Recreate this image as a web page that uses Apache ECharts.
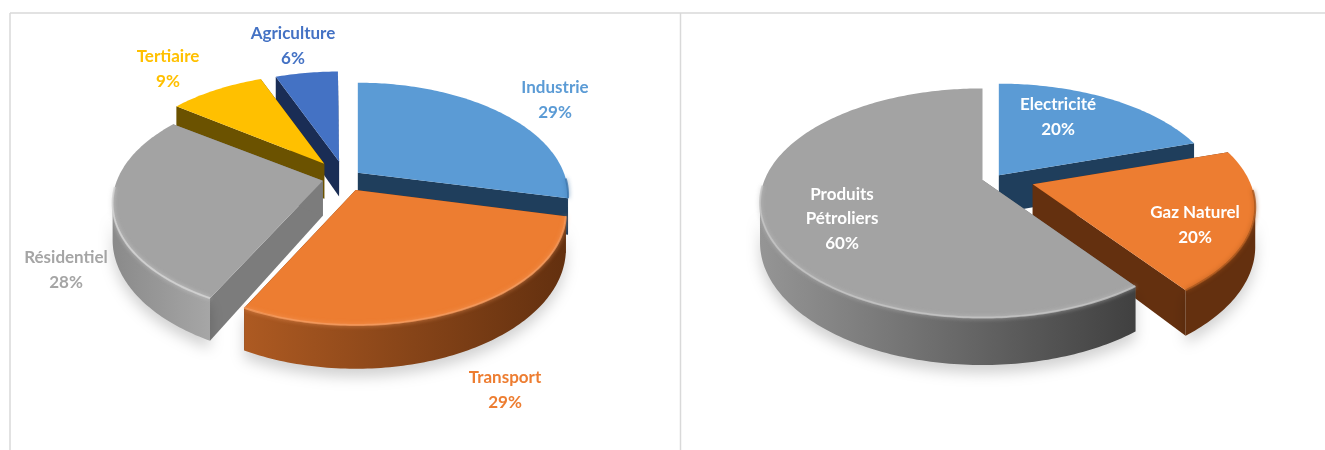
<!DOCTYPE html>
<html>
<head>
<meta charset="utf-8">
<style>
  html, body { margin: 0; background: #fff; }
  #chart { width: 1325px; height: 450px; }
</style>
<script src="https://cdn.jsdelivr.net/npm/echarts@6/dist/echarts.min.js"></script>
</head>
<body>
<div id="chart"></div>
<script>
// sector shares, % (clockwise from 12 o'clock)
const sectorNames = ['Industrie', 'Transport', 'Résidentiel', 'Tertiaire', 'Agriculture'];
const sectorValues = [29, 29, 28, 9, 6];
const energyNames = ['Electricité', 'Gaz Naturel', 'Produits\nPétroliers'];
const energyValues = [20, 20, 60];

const blue = { top: '#5b9bd5', wall: '#1f3e5c', side: ['#2a5378', '#1f3e5c'], rim: '#3d76ab' };
const orange = { top: '#ed7d31', wall: '#64300f', side: ['#ad5a22', '#63300f'], rim: '#f59a5c' };
const grey = { top: '#a3a3a3', wall: '#7c7c7c', side: ['#8a8a8a', '#a6a6a6'], rim: '#d4d4d4' };
const yellow = { top: '#ffc000', wall: '#6b5200', side: ['#7a5e00', '#6b5200'], rim: null };
const navy = { top: '#4472c4', wall: '#1a2d55', side: ['#1a2d55', '#1a2d55'], rim: null };
const greyDark = { top: '#a3a3a3', wall: '#6e6e6e', side: ['#959595', '#404040'], rim: '#c4c4c4' };

const sectorPie = {
  names: sectorNames, values: sectorValues,
  cx: 345, cy: 178, rx: 206, ry: 108, persp: 0.2, depth: 35,
  explode: [0.08, 0.12, 0.11, 0.17, 0.16],
  paint: [blue, orange, grey, yellow, navy],
  labelColor: ['#5b9bd5', '#ed7d31', '#a5a5a5', '#ffc000', '#4472c4'],
  labelAt: [[555, 100], [505, 390], [66, 270], [168, 69], [293, 46]]
};
const energyPie = {
  names: energyNames, values: energyValues,
  cx: 995, cy: 178, rx: 218, ry: 110, persp: 0.2, depth: 38,
  explode: [0.03, 0.18, 0.06],
  paint: [blue, { ...orange, side: ['#64300f', '#64300f'], rim: '#a8551c' }, greyDark],
  labelColor: ['#fff', '#fff', '#fff'],
  labelAt: [[1058, 117], [1195, 225], [842, 219]]
};

const rad = d => d * Math.PI / 180;

// unit disc -> screen, with a little perspective (back of the disc is smaller)
function project(pie, u, v) {
  const w = 1 + pie.persp * v;
  return [pie.rx * u / w, -pie.ry * v / w, w];
}

function buildSlices(pie) {
  const total = pie.values.reduce((a, b) => a + b, 0);
  let angle = 0;
  const slices = pie.values.map((value, i) => {
    const start = angle;
    const end = angle + value / total * 360;
    angle = end;
    const mid = rad((start + end) / 2);
    const d = pie.explode[i];
    const off = project(pie, d * Math.sin(mid), d * Math.cos(mid));
    const ox = pie.cx + off[0];
    const oy = pie.cy + off[1];
    const top = [];
    const sideTop = [];
    const sideBottom = [];
    const front = [];
    let bottomFirst = null;
    let bottomLast = null;
    let minCos = 1;
    for (let a = start; a <= end + 0.001; a += 1) {
      const cos = Math.cos(rad(a));
      const p = project(pie, Math.sin(rad(a)), cos);
      const x = ox + p[0];
      const y = oy + p[1];
      const low = [x, y + pie.depth / p[2]];
      top.push([x, y]);
      if (!bottomFirst) bottomFirst = low;
      bottomLast = low;
      // the outer wall only shows on the near side of the silhouette
      if (cos < -pie.persp) {
        sideTop.push([x, y]);
        sideBottom.push(low);
      }
      // only the near part of the edge catches the light
      if (cos < -0.05) front.push([x, y]);
      minCos = Math.min(minCos, cos);
    }
    if (start <= 180 && end >= 180) minCos = -1;
    return { i, value, ox, oy, top, sideTop, sideBottom, bottomFirst, bottomLast, front, minCos };
  });
  // back slices first
  return slices.sort((a, b) => b.minCos - a.minCos);
}

function pieSeries(pie) {
  const slices = buildSlices(pie);
  return {
    type: 'custom',
    coordinateSystem: 'none',
    silent: true,
    animation: false,
    data: slices.map(s => [s.value]),
    renderItem(params) {
      const s = slices[params.dataIndex];
      const c = pie.paint[s.i];
      const apexTop = [s.ox, s.oy];
      const apexBottom = [s.ox, s.oy + pie.depth];
      const wall = (a, b) => ({
        type: 'polygon',
        shape: { points: [apexTop, a, b, apexBottom] },
        style: { fill: c.wall }
      });
      const children = [
        wall(s.top[0], s.bottomFirst),
        wall(s.top[s.top.length - 1], s.bottomLast)
      ];
      if (s.sideTop.length > 1) {
        children.push({
          type: 'polygon',
          shape: { points: s.sideTop.concat(s.sideBottom.slice().reverse()) },
          style: {
            fill: {
              type: 'linear', x: 0, y: 0, x2: 1, y2: 0,
              colorStops: [{ offset: 0, color: c.side[0] }, { offset: 1, color: c.side[1] }]
            },
            shadowBlur: 14, shadowColor: 'rgba(0,0,0,0.18)', shadowOffsetY: 8
          }
        });
      }
      children.push({
        type: 'polygon',
        shape: { points: [apexTop].concat(s.top) },
        style: { fill: c.top }
      });
      if (c.rim && s.front.length > 1) {
        children.push({
          type: 'polyline',
          shape: { points: s.front },
          style: { fill: 'none', stroke: c.rim, lineWidth: 2, opacity: 0.8, shadowBlur: 4, shadowColor: c.rim }
        });
      }
      children.push({
        type: 'text',
        z2: 100,
        style: {
          x: pie.labelAt[s.i][0],
          y: pie.labelAt[s.i][1],
          text: pie.names[s.i] + '\n' + s.value + '%',
          fill: pie.labelColor[s.i],
          font: 'bold 17px Lato',
          lineHeight: 24.5,
          align: 'center',
          verticalAlign: 'middle'
        }
      });
      return { type: 'group', children };
    }
  };
}

const frameLine = (x1, y1, x2, y2) => ({
  type: 'line',
  silent: true,
  shape: { x1, y1, x2, y2 },
  style: { stroke: '#d9d9d9', lineWidth: 1.5 }
});

const chart = echarts.init(document.getElementById('chart'));
chart.setOption({
  backgroundColor: '#fff',
  animation: false,
  graphic: [
    frameLine(10, 13, 1325, 13),
    frameLine(10, 13, 10, 450),
    frameLine(680.5, 13, 680.5, 450)
  ],
  series: [pieSeries(sectorPie), pieSeries(energyPie)]
});
</script>
</body>
</html>
